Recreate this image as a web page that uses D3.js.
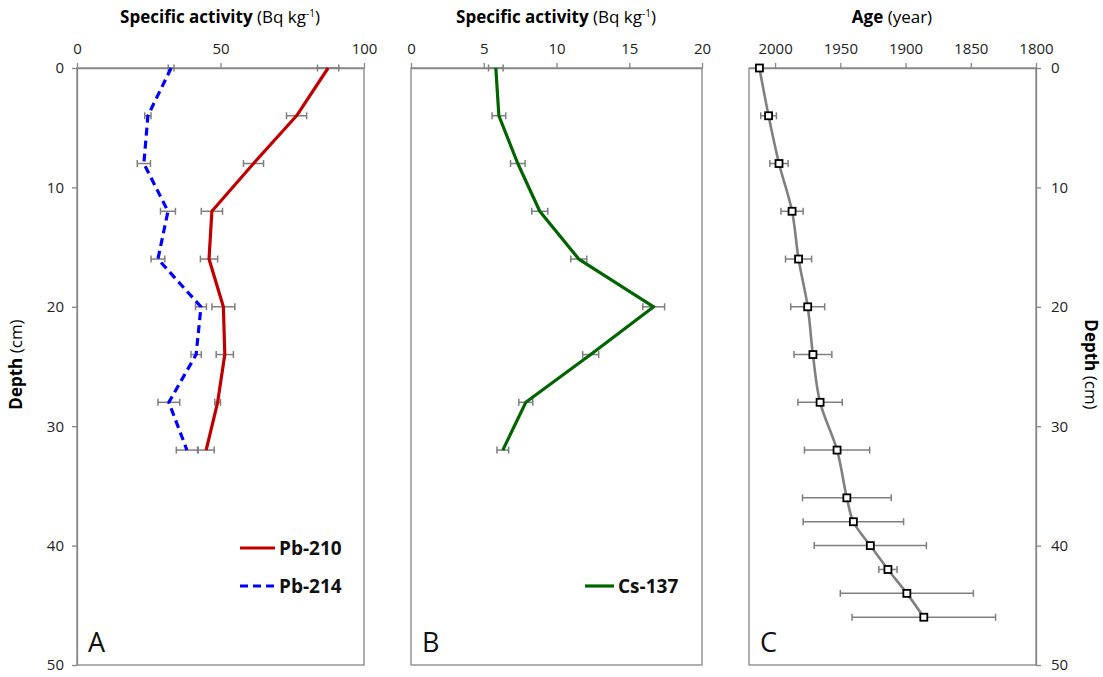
<!DOCTYPE html>
<html>
<head>
<meta charset="utf-8">
<script src="https://cdn.jsdelivr.net/npm/d3@7"></script>
<style>
  body { margin: 0; background: #fff; }
  svg { font-family: "Liberation Sans Narrow", "Open Sans", sans-serif; }
  .axis path, .axis line { stroke: #868686; stroke-width: 1.3; }
  .axis text { font-size: 15px; fill: #222; font-family: "Liberation Sans Narrow", "Open Sans", sans-serif; }
</style>
</head>
<body>
<div id="chart"></div>
<script>
// Sediment core profiles: Pb-210 / Pb-214, Cs-137 and the derived age model.
const depths = [0, 4, 8, 12, 16, 20, 24, 28, 32];

const pb210 = [87.5, 76.5, 61.5, 47, 46, 51, 51.5, 49, 45];
const pb210Err = [3.7, 3.5, 3.5, 3.7, 3, 4, 3, 1, 2.8];
const pb214 = [32.8, 24.7, 23.3, 31.7, 28.2, 43.2, 41.5, 32, 38.3];
const pb214Err = [1, 1.1, 2.3, 2.6, 2.4, 1.9, 1.8, 3.8, 3.7];

const cs137 = [5.83, 6.04, 7.34, 8.85, 11.53, 16.68, 12.35, 7.89, 6.31];
const cs137Err = [0.5, 0.47, 0.5, 0.55, 0.55, 0.75, 0.55, 0.48, 0.4];

const ageDepths = [0, 4, 8, 12, 16, 20, 24, 28, 32, 36, 38, 40, 42, 44, 46];
const ages = [2012, 2005, 1997, 1987, 1982, 1975, 1971, 1965.5, 1952.5, 1945, 1940, 1927, 1913.5, 1899, 1886];
const ageErr = [0, 6, 7, 8.5, 10, 13, 14.5, 17, 25, 34, 38.5, 43, 7, 51, 55];

const depthTicks = [0, 10, 20, 30, 40, 50];
const ticksA = [0, 50, 100];
const ticksB = [0, 5, 10, 15, 20];
const ticksC = [2000, 1950, 1900, 1850, 1800];

const W = 1103, H = 677;
const plotTop = 68, plotBottom = 665;

const svg = d3.select('#chart').append('svg').attr('width', W).attr('height', H);

const y = d3.scaleLinear().domain([0, 50]).range([plotTop, plotBottom]);

const panels = [
  {key: 'A', x: d3.scaleLinear().domain([0, 100]).range([77, 364]), ticks: ticksA},
  {key: 'B', x: d3.scaleLinear().domain([0, 20]).range([411, 702]), ticks: ticksB},
  {key: 'C', x: d3.scaleLinear().domain([2020, 1800]).range([749, 1036]), ticks: ticksC}
];

// plot frames
panels.forEach(p => {
  const [x0, x1] = p.x.range();
  svg.append('rect')
    .attr('x', x0).attr('y', plotTop)
    .attr('width', x1 - x0).attr('height', plotBottom - plotTop)
    .attr('fill', 'none').attr('stroke', '#868686').attr('stroke-width', 1.3);

  svg.append('g')
    .attr('class', 'axis')
    .attr('transform', `translate(0,${plotTop})`)
    .call(d3.axisTop(p.x).tickValues(p.ticks).tickSize(5).tickSizeOuter(0).tickPadding(9).tickFormat(d3.format('d')));

  svg.append('text')
    .attr('x', x0 + 11).attr('y', plotBottom - 13)
    .attr('font-size', 27)
    .attr('fill', '#111')
    .text(p.key);
});

// depth axes: left on A, right on C
svg.append('g').attr('class', 'axis')
  .attr('transform', `translate(77,0)`)
  .call(d3.axisLeft(y).tickValues(depthTicks).tickSize(5).tickSizeOuter(0).tickPadding(8));

svg.append('g').attr('class', 'axis')
  .attr('transform', `translate(1036,0)`)
  .call(d3.axisRight(y).tickValues(depthTicks).tickSize(5).tickSizeOuter(0).tickPadding(10));

// axis titles
function title(sel, bold, rest, sup, after) {
  sel.append('tspan').attr('font-weight', 'bold').text(bold);
  sel.append('tspan').text(rest);
  if (sup) {
    sel.append('tspan').attr('font-size', 10).attr('dy', -6).text(sup);
    sel.append('tspan').attr('dy', 6).text(after);
  }
}
const tA = svg.append('text').attr('x', 220).attr('y', 23).attr('text-anchor', 'middle').attr('font-size', 17);
title(tA, 'Specific activity', ' (Bq kg', '-1', ')');
const tB = svg.append('text').attr('x', 556).attr('y', 23).attr('text-anchor', 'middle').attr('font-size', 17);
title(tB, 'Specific activity', ' (Bq kg', '-1', ')');
const tC = svg.append('text').attr('x', 892).attr('y', 23).attr('text-anchor', 'middle').attr('font-size', 17);
title(tC, 'Age', ' (year)');

const tD = svg.append('text').attr('transform', `translate(22,${(plotTop + plotBottom) / 2 - 2}) rotate(-90)`)
  .attr('text-anchor', 'middle').attr('font-size', 17);
title(tD, 'Depth', ' (cm)');
const tD2 = svg.append('text').attr('transform', `translate(1085,${(plotTop + plotBottom) / 2 - 2}) rotate(90)`)
  .attr('text-anchor', 'middle').attr('font-size', 17);
title(tD2, 'Depth', ' (cm)');

// error bars helper
function errorBars(x, vals, errs, dep) {
  const g = svg.append('g').attr('stroke', '#7f7f7f').attr('stroke-width', 1.5);
  vals.forEach((v, i) => {
    if (!errs[i]) return;
    const yy = y(dep[i]);
    const xl = x(v - errs[i]), xr = x(v + errs[i]);
    g.append('line').attr('x1', xl).attr('x2', xr).attr('y1', yy).attr('y2', yy);
    g.append('line').attr('x1', xl).attr('x2', xl).attr('y1', yy - 3.5).attr('y2', yy + 3.5);
    g.append('line').attr('x1', xr).attr('x2', xr).attr('y1', yy - 3.5).attr('y2', yy + 3.5);
  });
}

function profile(x, vals, dep, color, width, dash, curve) {
  const line = d3.line().x(d => x(d[0])).y(d => y(d[1])).curve(curve || d3.curveLinear);
  svg.append('path')
    .datum(vals.map((v, i) => [v, dep[i]]))
    .attr('d', line)
    .attr('fill', 'none')
    .attr('stroke', color)
    .attr('stroke-width', width)
    .attr('stroke-dasharray', dash || null)
    .attr('stroke-linejoin', 'round');
}

const xA = panels[0].x, xB = panels[1].x, xC = panels[2].x;

// Panel A
errorBars(xA, pb210, pb210Err, depths);
errorBars(xA, pb214, pb214Err, depths);
profile(xA, pb210, depths, '#c00000', 3.2);
profile(xA, pb214, depths, '#0000ff', 3.2, '8,5');

// Panel B
errorBars(xB, cs137, cs137Err, depths);
profile(xB, cs137, depths, '#006400', 3.2);

// Panel C
errorBars(xC, ages, ageErr, ageDepths);
profile(xC, ages, ageDepths, '#808080', 2.6, null, d3.curveCatmullRom);
svg.append('g').selectAll('rect')
  .data(ages.map((a, i) => [a, ageDepths[i]]))
  .join('rect')
  .attr('x', d => xC(d[0]) - 3.5)
  .attr('y', d => y(d[1]) - 3.5)
  .attr('width', 7).attr('height', 7)
  .attr('fill', '#fff').attr('stroke', '#000').attr('stroke-width', 1.8);

// legends
function legendItem(x0, len, yy, color, dash, label) {
  svg.append('line').attr('x1', x0).attr('x2', x0 + len).attr('y1', yy).attr('y2', yy)
    .attr('stroke', color).attr('stroke-width', 3.2).attr('stroke-dasharray', dash || null);
  svg.append('text').attr('x', x0 + len + 4).attr('y', yy + 7)
    .attr('font-size', 19).attr('font-weight', 'bold').attr('fill', '#111').text(label);
}
legendItem(240, 35, 548, '#c00000', null, 'Pb-210');
legendItem(240, 35, 586, '#0000ff', '8,5', 'Pb-214');
legendItem(585, 29, 586, '#006400', null, 'Cs-137');
</script>
</body>
</html>
